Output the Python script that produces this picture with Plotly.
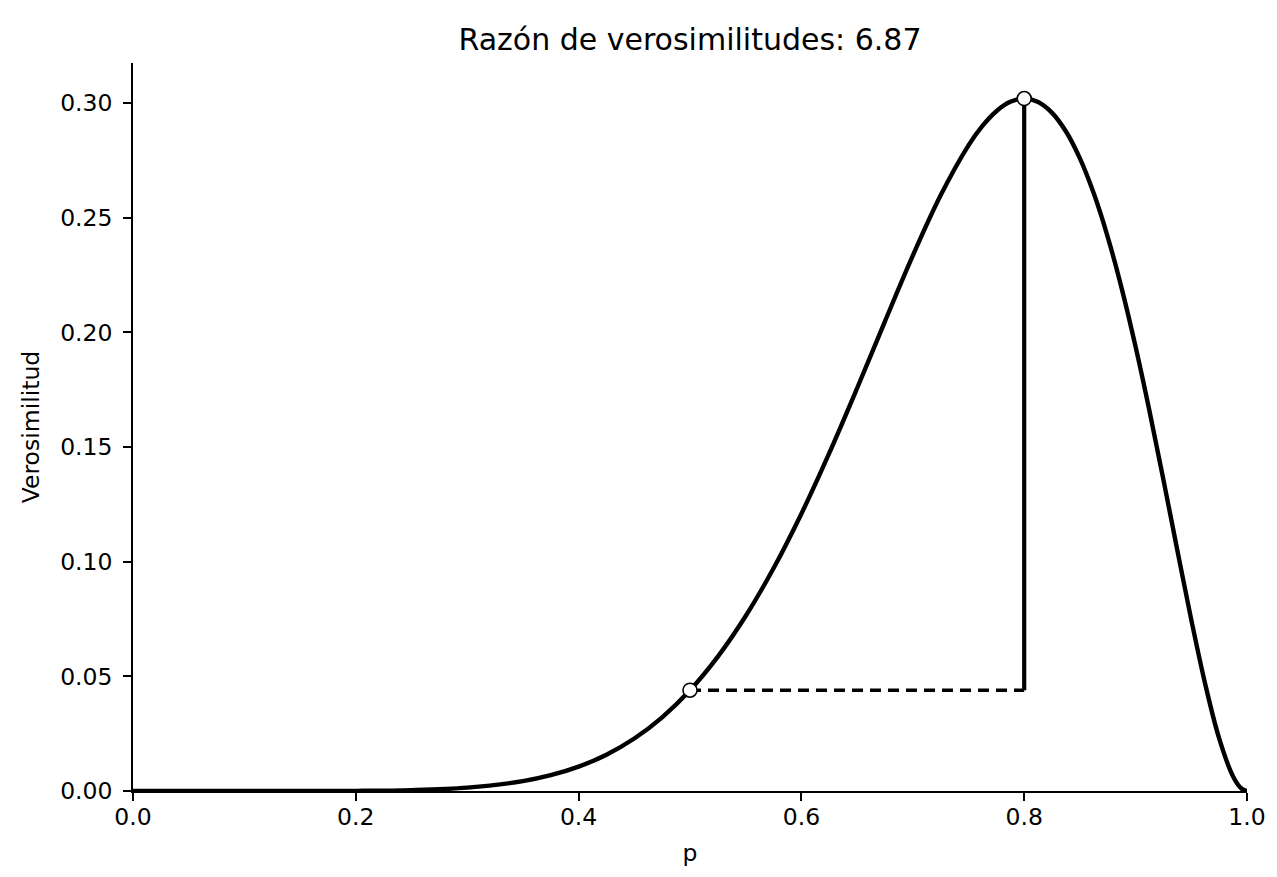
import plotly.graph_objects as go

# Likelihood curve values
p_vals = [0.0, 0.05, 0.1, 0.15, 0.2, 0.25, 0.3, 0.35, 0.375, 0.4, 0.425, 0.45, 0.475,
          0.5, 0.525, 0.55, 0.575, 0.6, 0.625, 0.65, 0.675, 0.7, 0.725, 0.75, 0.7625, 0.775, 0.7875,
          0.8, 0.8125, 0.825, 0.8375, 0.85, 0.8625, 0.875, 0.8875, 0.9, 0.9125, 0.925, 0.9375,
          0.95, 0.9625, 0.975, 0.9875, 0.995, 1.0]
lik_vals = [0.0, 0.0, 0.0000004, 0.0000083, 0.000074, 0.000386, 0.001447, 0.004281, 0.006874,
            0.010617, 0.015836, 0.02289, 0.032143, 0.043945, 0.058597, 0.076303, 0.09712,
            0.12093, 0.14734, 0.17565, 0.20483, 0.23347, 0.25977, 0.28157, 0.29005, 0.29648, 0.30056,
            0.30199, 0.30047, 0.29575, 0.28761, 0.27590, 0.26055, 0.24160, 0.21921, 0.19371, 0.16561,
            0.13567, 0.10489, 0.07463, 0.046611, 0.022968, 0.006358, 0.001081, 0.0]

p_null, lik_null = 0.5, 0.043945
p_mle, lik_mle = 0.8, 0.30199
title_text = "Razón de verosimilitudes: 6.87"
x_ticks = [0.0, 0.2, 0.4, 0.6, 0.8, 1.0]
y_ticks = [0.0, 0.05, 0.10, 0.15, 0.20, 0.25, 0.30]

fig = go.Figure()
fig.add_trace(go.Scatter(x=p_vals, y=lik_vals, mode="lines",
                         line=dict(color="black", width=4.4, shape="spline", smoothing=1.0),
                         showlegend=False, hoverinfo="skip"))
fig.add_trace(go.Scatter(x=[p_null, p_mle], y=[lik_null, lik_null], mode="lines",
                         line=dict(color="black", width=3.3, dash="11px,7px"), showlegend=False))
fig.add_trace(go.Scatter(x=[p_mle, p_mle], y=[lik_null, lik_mle], mode="lines",
                         line=dict(color="black", width=4.2), showlegend=False))
fig.add_trace(go.Scatter(x=[p_null, p_mle], y=[lik_null, lik_mle], mode="markers",
                         marker=dict(color="white", size=14, line=dict(color="black", width=1.6)),
                         showlegend=False))

font_family = "DejaVu Sans"
fig.update_layout(
    width=1277, height=877,
    margin=dict(l=125, r=38, t=55, b=94),
    paper_bgcolor="white", plot_bgcolor="white",
    font=dict(family=font_family, color="black", size=23),
    title=dict(text=title_text, x=0.5, xanchor="center", xref="paper", y=1 - 31 / 877, yanchor="middle",
               font=dict(size=30, family=font_family, color="black")),
)
fig.update_xaxes(range=[0, 1], tickvals=x_ticks, tickformat=".1f", showgrid=False, zeroline=False,
                 showline=True, linecolor="black", linewidth=1.6, ticks="outside", ticklen=8, tickwidth=1.6,
                 tickcolor="black", tickfont=dict(size=23.5), ticklabelstandoff=-4,
                 title=dict(text="p", font=dict(size=23.5), standoff=15))
fig.update_yaxes(range=[0, 0.3175], tickvals=y_ticks, tickformat=".2f", showgrid=False, zeroline=False,
                 showline=True, linecolor="black", linewidth=1.6, ticks="outside", ticklen=8, tickwidth=1.6,
                 tickcolor="black", tickfont=dict(size=23.5), ticklabelstandoff=6,
                 title=dict(text="Verosimilitud", font=dict(size=23.5), standoff=14))

fig.write_html("out.html")
